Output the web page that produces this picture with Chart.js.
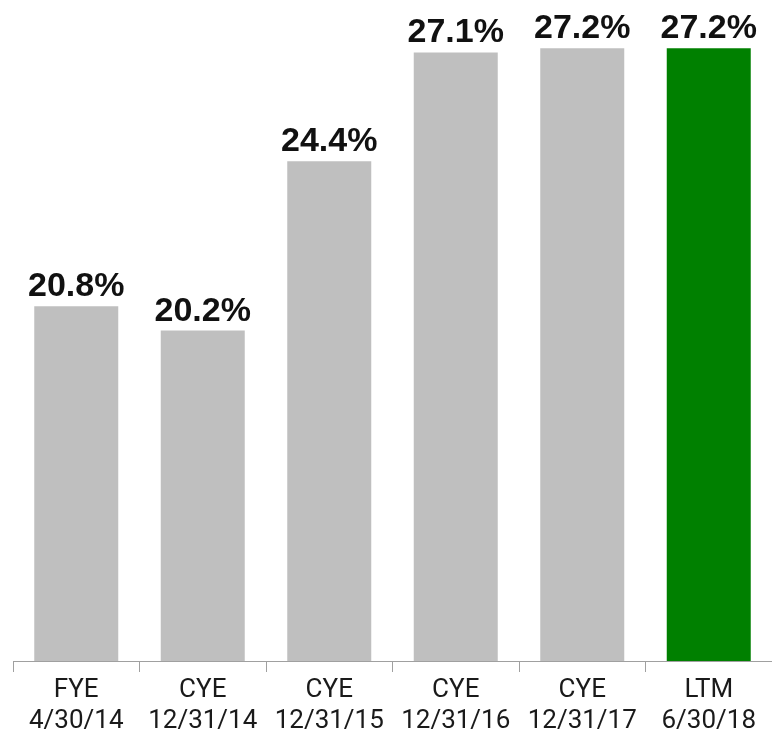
<!DOCTYPE html>
<html>
<head>
<meta charset="utf-8">
<script src="https://cdn.jsdelivr.net/npm/chart.js@4/dist/chart.umd.min.js"></script>
<style>
html,body{margin:0;padding:0;background:#fff;}
#wrap{width:772px;height:731px;}
</style>
</head>
<body>
<div id="wrap"><canvas id="c" width="772" height="731"></canvas></div>
<script>
const categories = [["FYE","4/30/14"],["CYE","12/31/14"],["CYE","12/31/15"],["CYE","12/31/16"],["CYE","12/31/17"],["LTM","6/30/18"]];
const values = [20.8, 20.2, 24.4, 27.1, 27.2, 27.2];
const valueLabels = ["20.8%","20.2%","24.4%","27.1%","27.2%","27.2%"];
const barColors = ["#BFBFBF","#BFBFBF","#BFBFBF","#BFBFBF","#BFBFBF","#008000"];

const labelPlugin = {
  id: 'valueLabels',
  afterDatasetsDraw(chart) {
    const ctx = chart.ctx;
    const meta = chart.getDatasetMeta(0);
    ctx.save();
    ctx.font = 'bold 34px "Liberation Sans", Arial, sans-serif';
    ctx.fillStyle = '#111';
    ctx.textAlign = 'center';
    ctx.textBaseline = 'alphabetic';
    meta.data.forEach((bar, i) => {
      ctx.fillText(valueLabels[i], bar.x, bar.y - 10);
    });
    ctx.restore();
  }
};

new Chart(document.getElementById('c'), {
  type: 'bar',
  data: {
    labels: categories,
    datasets: [{
      data: values,
      backgroundColor: barColors,
      borderWidth: 0,
      categoryPercentage: 1,
      barPercentage: 0.664
    }]
  },
  options: {
    responsive: false,
    devicePixelRatio: 1,
    animation: false,
    layout: { padding: { left: 13, right: 0, top: 0, bottom: 0 } },
    plugins: { legend: { display: false }, tooltip: { enabled: false } },
    scales: {
      y: { display: false, min: 12, max: 28.4 },
      x: {
        afterFit(scale) { scale.height = 70; },
        grid: { display: true, drawOnChartArea: false, drawTicks: true, tickLength: 11, color: '#A0A0A0', lineWidth: 1, offset: true },
        border: { display: true, color: '#A0A0A0', width: 1 },
        ticks: {
          color: '#1a1a1a',
          padding: 3,
          maxRotation: 0,
          autoSkip: false,
          font: { family: 'Roboto, "Liberation Sans", sans-serif', size: 26, lineHeight: 1.19 }
        }
      }
    }
  },
  plugins: [labelPlugin]
});
</script>
</body>
</html>
